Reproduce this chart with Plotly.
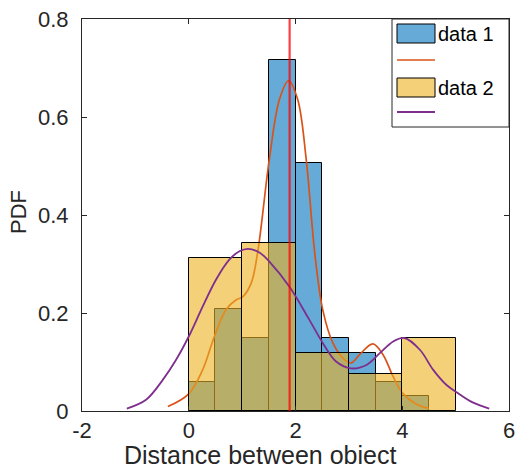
import plotly.graph_objects as go

# ---- data ----
bin_left_1 = [0.0, 0.5, 1.0, 1.5, 2.0, 2.5, 3.0, 3.5, 4.0]
pdf_1 = [0.060, 0.209, 0.149, 0.716, 0.507, 0.149, 0.119, 0.060, 0.030]
bin_w_1 = 0.5

bin_left_2 = [0.0, 1.0, 2.0, 3.0, 4.0]
pdf_2 = [0.313, 0.343, 0.119, 0.075, 0.149]
bin_w_2 = 1.0

kde1_x = [-0.39, 0.0, 0.26, 0.48, 0.70, 0.89, 1.01, 1.17, 1.29, 1.51, 1.70, 1.87,
          2.04, 2.20, 2.36, 2.51, 2.70, 2.89, 3.04, 3.20, 3.45, 3.64, 3.83, 4.01, 4.25, 4.50]
kde1_y = [0.009, 0.035, 0.084, 0.152, 0.207, 0.227, 0.233, 0.261, 0.323, 0.514, 0.636, 0.674,
          0.636, 0.514, 0.323, 0.207, 0.139, 0.108, 0.098, 0.115, 0.137, 0.115, 0.070, 0.036, 0.015, 0.005]

kde2_x = [-1.16, -0.80, -0.49, -0.24, 0.0, 0.26, 0.51, 0.76, 0.95, 1.11, 1.33, 1.51, 1.89,
          2.26, 2.51, 2.76, 3.04, 3.33, 3.58, 3.83, 4.04, 4.33, 4.58, 4.83, 5.01, 5.33, 5.63]
kde2_y = [0.005, 0.023, 0.063, 0.104, 0.152, 0.213, 0.268, 0.309, 0.326, 0.331, 0.323, 0.305, 0.253,
          0.186, 0.139, 0.101, 0.087, 0.094, 0.118, 0.142, 0.149, 0.125, 0.084, 0.053, 0.039, 0.017, 0.005]

mean_line_x = 1.89

x_ticks = [-2, 0, 2, 4, 6]
x_tick_labels = ["-2", "0", "2", "4", "6"]
y_ticks = [0, 0.2, 0.4, 0.6, 0.8]
y_tick_labels = ["0", "0.2", "0.4", "0.6", "0.8"]
x_range = [-2, 6]
y_range = [0, 0.8]

legend_labels = ["data 1", "", "data 2", ""]

# ---- figure ----
W, H = 515, 464
ML, MR, MT, MB = 82, 6, 19, 53
PW, PH = W - ML - MR, H - MT - MB

def px(xp):
    return (xp - ML) / PW

def py(yp):
    return (H - MB - yp) / PH

FONT = "Liberation Sans, Arial, sans-serif"
TXT = "#262626"
BLUE = "rgba(0,114,189,0.6)"
YELLOW = "rgba(237,177,32,0.6)"
ORANGE = "#D95319"
PURPLE = "#7E2F8E"

fig = go.Figure()
fig.add_trace(go.Bar(
    x=[l + bin_w_1 / 2 for l in bin_left_1], y=pdf_1, width=bin_w_1,
    marker=dict(color=BLUE, line=dict(color="black", width=1)),
    name=legend_labels[0], xaxis="x", yaxis="y", showlegend=False))
fig.add_trace(go.Scatter(
    x=kde1_x, y=kde1_y, mode="lines", line=dict(color=ORANGE, width=1.7, shape="spline", smoothing=1),
    name=legend_labels[1], xaxis="x", yaxis="y", showlegend=False))
fig.add_trace(go.Bar(
    x=[l + bin_w_2 / 2 for l in bin_left_2], y=pdf_2, width=bin_w_2,
    marker=dict(color=YELLOW, line=dict(color="black", width=1)),
    name=legend_labels[2], xaxis="x2", yaxis="y2", showlegend=False))
fig.add_trace(go.Scatter(
    x=kde2_x, y=kde2_y, mode="lines", line=dict(color=PURPLE, width=1.8, shape="spline", smoothing=1),
    name=legend_labels[3], xaxis="x2", yaxis="y2", showlegend=False))

axis_common = dict(showgrid=False, zeroline=False, showline=True, linecolor=TXT, linewidth=1,
                   mirror="ticks", ticks="inside", ticklen=5, tickcolor=TXT, tickwidth=1,
                   ticklabeloverflow="allow", automargin=False,
                   tickfont=dict(family=FONT, size=22, color=TXT))

shapes = [
    dict(type="line", xref="x", yref="paper", x0=mean_line_x, x1=mean_line_x, y0=0, y1=1,
         line=dict(color="rgba(255,0,0,0.75)", width=2.2), layer="above"),
    # legend box
    dict(type="rect", xref="paper", yref="paper", x0=px(392), x1=px(509), y0=py(127), y1=py(19),
         fillcolor="white", line=dict(color=TXT, width=1), layer="above"),
    dict(type="rect", xref="paper", yref="paper", x0=px(397), x1=px(435), y0=py(43), y1=py(24),
         fillcolor="#66AAD7", line=dict(color="black", width=1), layer="above"),
    dict(type="line", xref="paper", yref="paper", x0=px(397), x1=px(435), y0=py(60), y1=py(60),
         line=dict(color=ORANGE, width=1.7), layer="above"),
    dict(type="rect", xref="paper", yref="paper", x0=px(397), x1=px(435), y0=py(97), y1=py(78),
         fillcolor="#F4D079", line=dict(color="black", width=1), layer="above"),
    dict(type="line", xref="paper", yref="paper", x0=px(397), x1=px(435), y0=py(112), y1=py(112),
         line=dict(color=PURPLE, width=1.8), layer="above"),
]

annotations = [
    dict(text=legend_labels[0], xref="paper", yref="paper", x=px(436), y=py(34), xanchor="left",
         yanchor="middle", showarrow=False, font=dict(family=FONT, size=20, color="black")),
    dict(text=legend_labels[2], xref="paper", yref="paper", x=px(436), y=py(88), xanchor="left",
         yanchor="middle", showarrow=False, font=dict(family=FONT, size=20, color="black")),
    dict(text="Distance between object", xref="paper", yref="paper", x=px(260), y=py(455),
         xanchor="center", yanchor="middle", showarrow=False, font=dict(family=FONT, size=25, color=TXT)),
    dict(text="PDF", xref="paper", yref="paper", x=px(18), y=py(212), textangle=-90,
         xanchor="center", yanchor="middle", showarrow=False, font=dict(family=FONT, size=22, color=TXT)),
]

fig.update_layout(
    width=W, height=H, margin=dict(l=ML, r=MR, t=MT, b=MB, pad=0, autoexpand=False),
    paper_bgcolor="white", plot_bgcolor="white", barmode="overlay", bargap=0,
    showlegend=False,
    xaxis=dict(range=x_range, tickvals=x_ticks, ticktext=x_tick_labels, ticklabelstandoff=0, **axis_common),
    yaxis=dict(range=y_range, tickvals=y_ticks, ticktext=y_tick_labels, ticklabelstandoff=8, **axis_common),
    xaxis2=dict(range=x_range, overlaying="x", visible=False),
    yaxis2=dict(range=y_range, overlaying="y", visible=False),
    shapes=shapes, annotations=annotations,
)

fig.write_html("out.html", config={"displayModeBar": False},
               post_script="document.body.style.margin='0';document.body.style.overflow='hidden';")
